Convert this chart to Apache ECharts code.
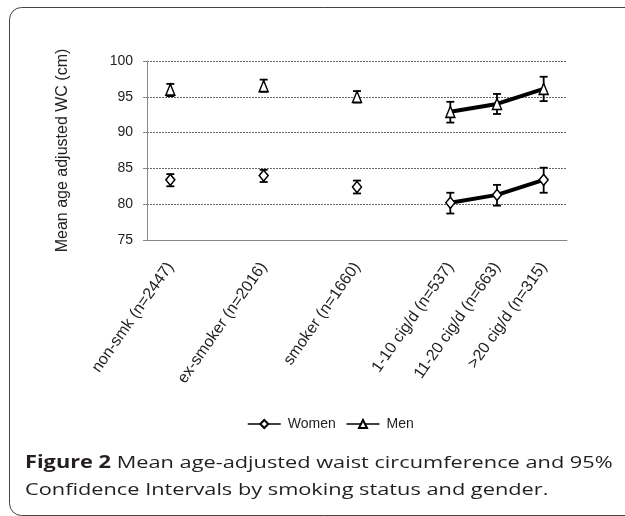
<!DOCTYPE html>
<html>
<head>
<meta charset="utf-8">
<script src="https://cdn.jsdelivr.net/npm/echarts@6/dist/echarts.min.js"></script>
<style>
html,body{margin:0;padding:0;background:#fff;}
#chart{width:625px;height:516px;}
</style>
</head>
<body>
<div id="chart"></div>
<script>
// Categories (blank entries are spacer slots on the axis)
var categories = ['non-smk (n=2447)', '', 'ex-smoker (n=2016)', '', 'smoker (n=1660)', '', '1-10 cig/d (n=537)', '11-20 cig/d (n=663)', '>20 cig/d (n=315)'];
var groupIndex = [0, 2, 4, 6, 7, 8];

// Women: mean and 95% CI
var womenMean  = [83.4, 84.0, 82.4, 80.2, 81.3, 83.4];
var womenLow   = [82.5, 83.1, 81.5, 78.7, 79.8, 81.6];
var womenHigh  = [84.2, 84.8, 83.3, 81.6, 82.7, 85.1];

// Men: mean and 95% CI
var menMean  = [96.0, 96.5, 95.0, 92.9, 94.0, 96.1];
var menLow   = [95.1, 95.7, 94.2, 91.4, 92.6, 94.4];
var menHigh  = [96.8, 97.4, 95.8, 94.3, 95.4, 97.8];

// Connected segment (cigarettes per day groups)
var connectedFrom = 3;

var yTicks = [75, 80, 85, 90, 95, 100];

function errData(low, high) {
  return groupIndex.map(function(ci, i){ return [ci, low[i], high[i]]; });
}
function splitData(vals, connected) {
  var d = categories.map(function(){ return null; });
  groupIndex.forEach(function(ci, i){
    if ((i >= connectedFrom) === connected) d[ci] = vals[i];
  });
  return d;
}

var chart = echarts.init(document.getElementById('chart'), null, {renderer: 'canvas'});

function errSeries(low, high) {
  return {
    type: 'custom',
    z: 1,
    silent: true,
    data: errData(low, high),
    renderItem: function(params, api) {
      var x = api.value(0);
      var p1 = api.coord([x, api.value(1)]);
      var p2 = api.coord([x, api.value(2)]);
      var hw = 4;
      var st = {stroke: '#000', lineWidth: 1.8};
      return {
        type: 'group',
        children: [
          {type: 'line', shape: {x1: p1[0], y1: p1[1], x2: p2[0], y2: p2[1]}, style: st},
          {type: 'line', shape: {x1: p1[0]-hw, y1: p1[1], x2: p1[0]+hw, y2: p1[1]}, style: st},
          {type: 'line', shape: {x1: p2[0]-hw, y1: p2[1], x2: p2[0]+hw, y2: p2[1]}, style: st}
        ]
      };
    }
  };
}

function meanSeries(name, vals, connected, symbol, size) {
  return {
    name: name,
    type: 'line',
    z: 3,
    data: splitData(vals, connected),
    connectNulls: false,
    symbol: symbol,
    symbolSize: size,
    showSymbol: true,
    showAllSymbol: true,
    lineStyle: {color: '#000', width: 4},
    itemStyle: {color: '#fff', borderColor: '#000', borderWidth: 1.5}
  };
}

var FONT = 'Liberation Sans, Arial, sans-serif';
var CAPFONT = 'Open Sans, DejaVu Sans, sans-serif';

var option = {
  animation: false,
  textStyle: {fontFamily: FONT},
  grid: {left: 147, right: 58, top: 61, bottom: 276, containLabel: false},
  legend: {
    bottom: 80,
    left: 242,
    itemWidth: 33,
    itemHeight: 10,
    itemGap: 10,
    textStyle: {fontSize: 14, color: '#222', fontFamily: FONT, padding: [0, 0, 0, 2]},
    lineStyle: {width: 1.5, color: '#000'},
    data: ['Women', 'Men']
  },
  xAxis: {
    type: 'category',
    data: categories,
    boundaryGap: true,
    axisLine: {lineStyle: {color: '#888', width: 1}},
    axisTick: {show: false},
    axisLabel: {
      interval: 0,
      rotate: 55,
      fontSize: 16,
      color: '#222',
      margin: 24
    },
    splitLine: {show: false}
  },
  yAxis: {
    type: 'value',
    min: yTicks[0],
    max: yTicks[yTicks.length - 1],
    interval: 5,
    name: 'Mean age adjusted WC (cm)',
    nameLocation: 'middle',
    nameRotate: 90,
    nameGap: 76,
    nameTextStyle: {fontSize: 16, color: '#222'},
    axisLine: {show: true, lineStyle: {color: '#888', width: 1}},
    axisTick: {show: true, length: 4, lineStyle: {color: '#888'}},
    axisLabel: {fontSize: 14, color: '#222', margin: 14},
    splitLine: {show: true, lineStyle: {type: [2, 1], color: '#666', width: 1}}
  },
  series: [
    errSeries(womenLow, womenHigh),
    errSeries(menLow, menHigh),
    meanSeries('Women', womenMean, true, 'diamond', [9, 11]),
    meanSeries('Women', womenMean, false, 'diamond', [9, 11]),
    meanSeries('Men', menMean, true, 'triangle', [9, 11]),
    meanSeries('Men', menMean, false, 'triangle', [9, 11])
  ],
  graphic: [
    {
      type: 'rect',
      silent: true,
      z: -10,
      shape: {x: 9.5, y: 7.5, width: 660, height: 508, r: [12, 0, 0, 12]},
      style: {fill: 'none', stroke: '#444', lineWidth: 1}
    },
    {
      type: 'text',
      x: 25,
      y: 455,
      scaleX: 1.28,
      style: {
        text: '{b|Figure 2} Mean age-adjusted waist circumference and 95%',
        fontSize: 17,
        fontFamily: CAPFONT,
        fill: '#231f20',
        rich: {b: {fontWeight: 'bold', fontSize: 17, fontFamily: CAPFONT, fill: '#231f20'}}
      }
    },
    {
      type: 'text',
      x: 25,
      y: 482,
      scaleX: 1.28,
      style: {
        text: 'Confidence Intervals by smoking status and gender.',
        fontSize: 17,
        fontFamily: CAPFONT,
        fill: '#231f20'
      }
    }
  ]
};
chart.setOption(option);
</script>
</body>
</html>
